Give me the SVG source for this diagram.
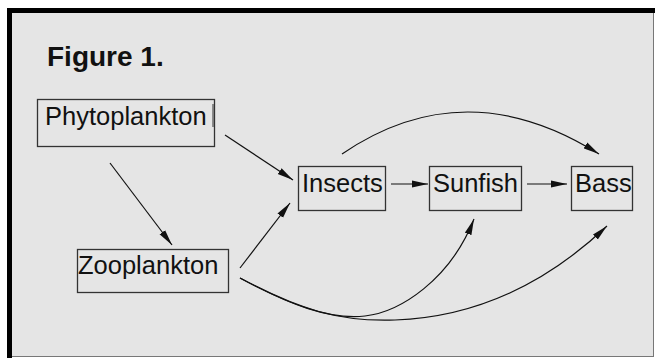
<svg xmlns="http://www.w3.org/2000/svg" width="655" height="358" viewBox="0 0 655 358">
<style>
.box{fill:none;stroke:#333;stroke-width:1.3}
.lbl{font-family:"Liberation Sans",Arial,sans-serif;font-size:25.5px;fill:#111}
.title{font-family:"Liberation Sans",Arial,sans-serif;font-size:28px;font-weight:bold;fill:#111}
.edge{fill:none;stroke:#111;stroke-width:1.2;marker-end:url(#ah)}
</style>
<defs>
<marker id="ah" viewBox="0 0 16 8" refX="16" refY="4" markerWidth="16" markerHeight="8" markerUnits="userSpaceOnUse" orient="auto">
<path d="M0,0.5 L16,4 L0,7.5 z" fill="#111"/>
</marker>
</defs>
<rect x="0" y="0" width="655" height="358" fill="#fff"/>
<rect x="12" y="13" width="641" height="343" fill="#e5e5e5"/>
<rect x="7" y="8" width="648" height="5" fill="#000"/>
<rect x="7" y="8" width="5" height="350" fill="#000"/>
<line x1="653.5" y1="13" x2="653.5" y2="357" stroke="#777" stroke-width="1"/>
<line x1="12" y1="356.5" x2="654" y2="356.5" stroke="#777" stroke-width="1"/>
<text class="title" x="47" y="66">Figure 1.</text>
<g id="connectors">
<path class="edge" d="M225,135 L293,180"/>
<path class="edge" d="M110,163 L172,245"/>
<path class="edge" d="M240,268 L290,203"/>
<path class="edge" d="M391,184 L428,184"/>
<path class="edge" d="M527,184 L567,184"/>
<path class="edge" d="M342,154 Q465,70 599,154"/>
<path class="edge" d="M240,278 C290,305 330,320 365,316 C400,312 450,280 474,219"/>
<path class="edge" d="M240,278 C300,310 340,322 395,320 C480,317 550,280 607,226"/>
</g>
<g id="phytoplankton">
<rect class="box" x="37.5" y="99.5" width="177" height="47"/>
<line x1="213" y1="104" x2="213" y2="127" stroke="#333" stroke-width="1"/>
<text class="lbl" x="45" y="125">Phytoplankton</text>
</g>
<g id="zooplankton">
<rect class="box" x="77.5" y="249.5" width="151" height="43"/>
<text class="lbl" x="78" y="274">Zooplankton</text>
</g>
<g id="insects">
<rect class="box" x="298.5" y="166.5" width="87" height="44"/>
<text class="lbl" x="302" y="192">Insects</text>
</g>
<g id="sunfish">
<rect class="box" x="429.5" y="166.5" width="92" height="44"/>
<text class="lbl" x="433" y="192">Sunfish</text>
</g>
<g id="bass">
<rect class="box" x="571.5" y="166.5" width="61" height="44"/>
<text class="lbl" x="575" y="192">Bass</text>
</g>
</svg>
